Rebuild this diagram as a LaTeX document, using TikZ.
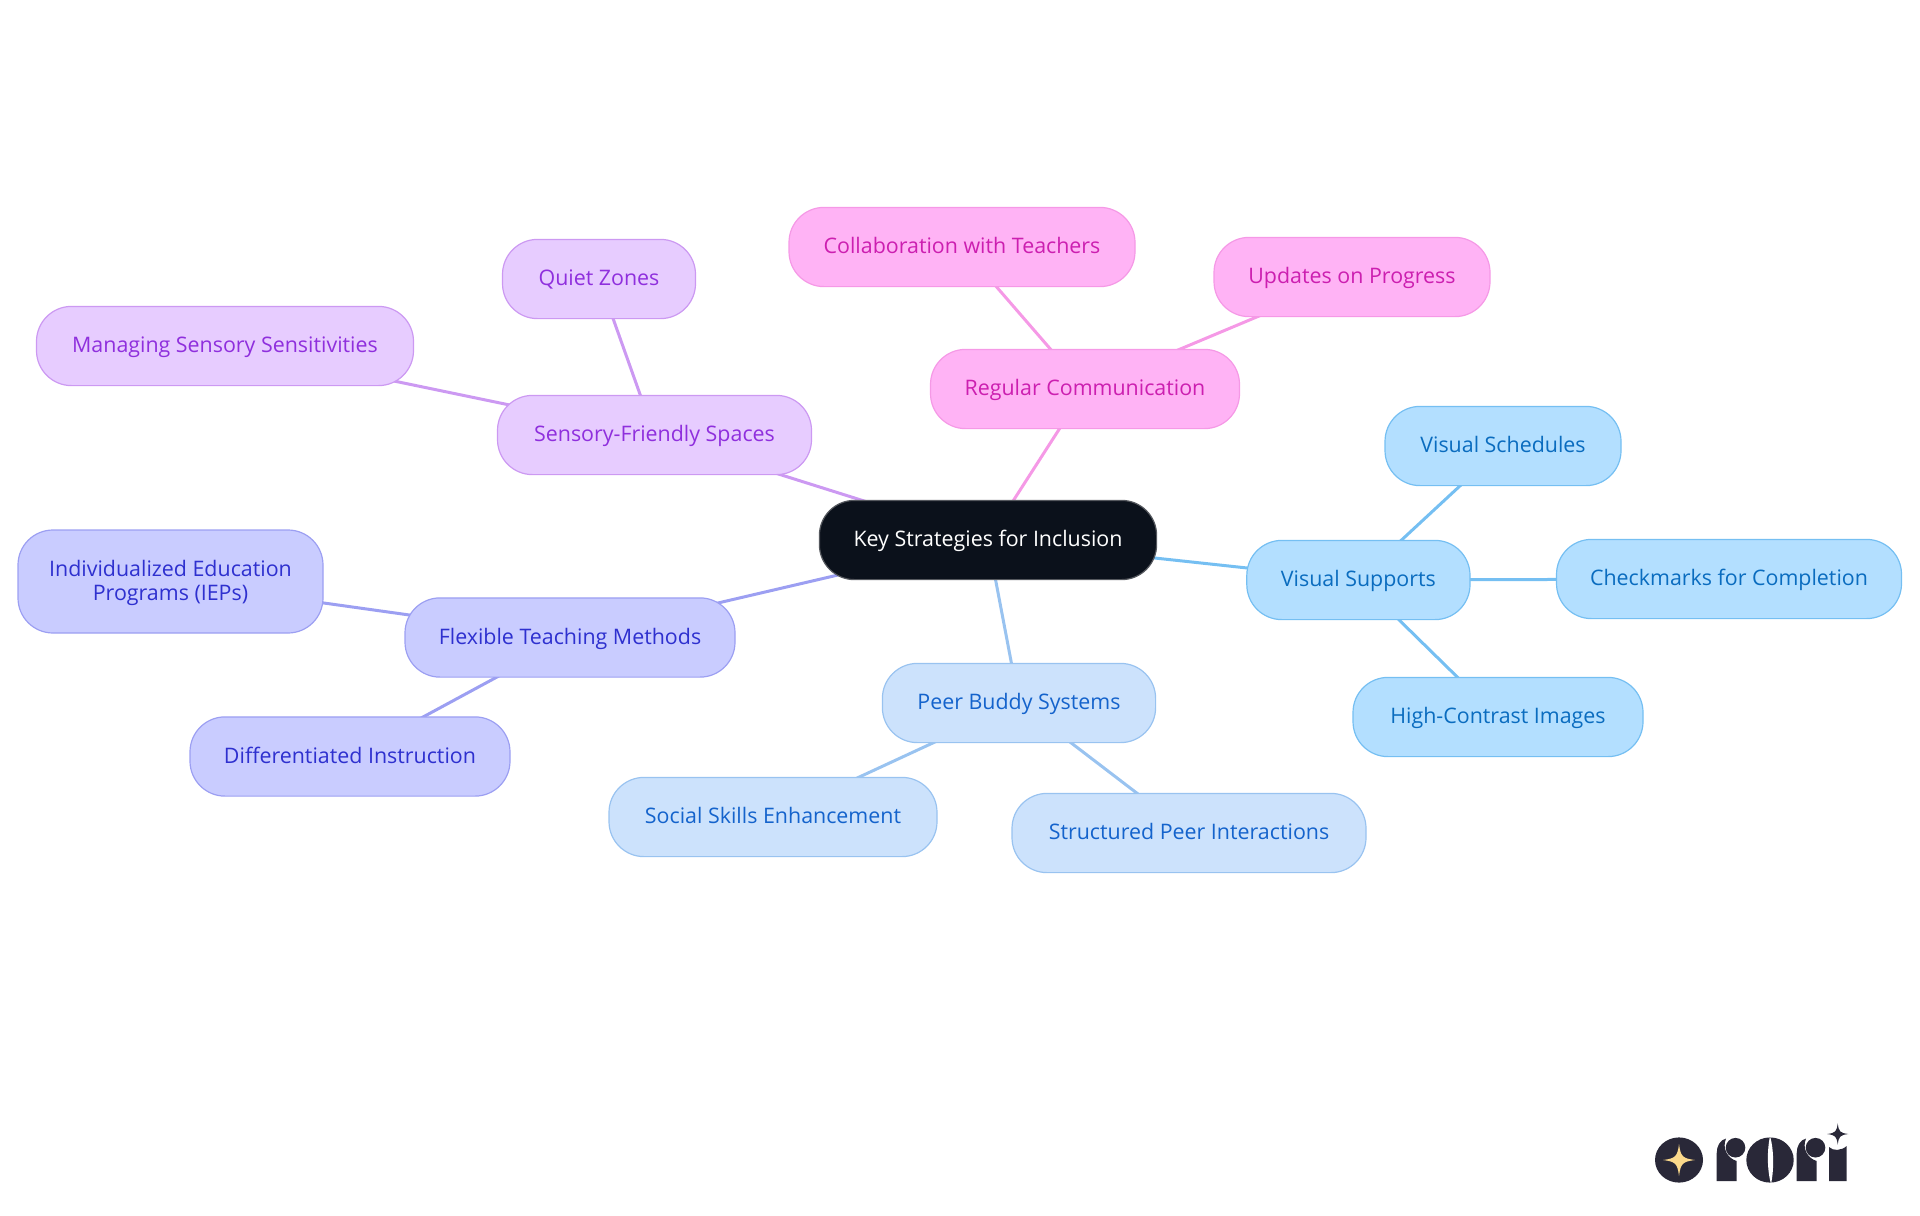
\documentclass[tikz,border=0pt]{standalone}
\usepackage{fontspec}
\setmainfont{Open Sans}
\usetikzlibrary{backgrounds}

\definecolor{rootfill}{HTML}{0B111B}
\definecolor{rootline}{HTML}{55585E}
\definecolor{visualfill}{HTML}{B3DFFF}
\definecolor{visualline}{HTML}{75BFF2}
\definecolor{visualtext}{HTML}{0A6CBF}
\definecolor{peerfill}{HTML}{CCE2FC}
\definecolor{peerline}{HTML}{99C3F0}
\definecolor{peertext}{HTML}{1463CC}
\definecolor{flexfill}{HTML}{C9CCFF}
\definecolor{flexline}{HTML}{9C9FF2}
\definecolor{flextext}{HTML}{2E30CF}
\definecolor{sensoryfill}{HTML}{E7CCFF}
\definecolor{sensoryline}{HTML}{CC99F2}
\definecolor{sensorytext}{HTML}{8F2FDD}
\definecolor{regularfill}{HTML}{FFB3F5}
\definecolor{regularline}{HTML}{F599E6}
\definecolor{regulartext}{HTML}{CC1FB0}
\definecolor{logodark}{HTML}{292838}
\definecolor{logostar}{HTML}{FBD98B}

\tikzset{
  mapnode/.style={rectangle,rounded corners=17.5pt,line width=0.6pt,minimum height=39.6pt,
    inner sep=0pt,align=center,text height=9.4pt,text depth=2.5pt,
    font=\fontsize{10.7}{12}\selectfont},
  rootnode/.style={mapnode,fill=rootfill,draw=rootline,text=white},
  visualnode/.style={mapnode,fill=visualfill,draw=visualline,text=visualtext},
  peernode/.style={mapnode,fill=peerfill,draw=peerline,text=peertext},
  flexnode/.style={mapnode,fill=flexfill,draw=flexline,text=flextext},
  sensorynode/.style={mapnode,fill=sensoryfill,draw=sensoryline,text=sensorytext},
  regularnode/.style={mapnode,fill=regularfill,draw=regularline,text=regulartext},
  mapline/.style={line width=1.5pt}
}

\newcommand{\sparkle}[4]{%
  \fill[#1,shift={(#2,#3)}] (0,-#4)
    .. controls ({0.1*#4},{-0.22*#4}) and ({0.22*#4},{-0.1*#4}) .. (#4,0)
    .. controls ({0.22*#4},{0.1*#4}) and ({0.1*#4},{0.22*#4}) .. (0,#4)
    .. controls ({-0.1*#4},{0.22*#4}) and ({-0.22*#4},{0.1*#4}) .. (-#4,0)
    .. controls ({-0.22*#4},{-0.1*#4}) and ({-0.1*#4},{-0.22*#4}) .. (0,-#4) -- cycle;}

\begin{document}
\begin{tikzpicture}[x=0.5pt,y=-0.5pt]
    \useasboundingbox (0,0) rectangle (1920,1215);

    \node[rootnode,minimum width=168.6pt] (key) at (988,540) {Key Strategies for Inclusion};

    \node[visualnode,minimum width=111.6pt] (visual) at (1358.4,580) {Visual Supports};
    \node[visualnode,minimum width=118pt] (schedules) at (1503,446) {Visual Schedules};
    \node[visualnode,minimum width=172.5pt] (checkmarks) at (1729,579) {Checkmarks for Completion};
    \node[visualnode,minimum width=145pt] (contrast) at (1498,717) {High-Contrast Images};

    \node[peernode,minimum width=136.6pt] (peer) at (1019,703) {Peer Buddy Systems};
    \node[peernode,minimum width=164pt] (social) at (773,817) {Social Skills Enhancement};
    \node[peernode,minimum width=177pt] (structured) at (1189,833) {Structured Peer Interactions};

    \node[flexnode,minimum width=165pt] (flexible) at (570,637.5) {Flexible Teaching Methods};
    \node[flexnode,minimum width=152.5pt,minimum height=51.5pt,text height=21pt] (iep) at (170.5,581.5) {Individualized Education\\Programs (IEPs)};
    \node[flexnode,minimum width=160pt] (differentiated) at (350,756.5) {Differentiated Instruction};

    \node[sensorynode,minimum width=157pt] (sensory) at (654.5,435) {Sensory-Friendly Spaces};
    \node[sensorynode,minimum width=96.5pt] (quiet) at (599,279) {Quiet Zones};
    \node[sensorynode,minimum width=188.5pt] (managing) at (225,346) {Managing Sensory Sensitivities};

    \node[regularnode,minimum width=154.5pt] (regular) at (1085,389) {Regular Communication};
    \node[regularnode,minimum width=173pt] (collaboration) at (962,247) {Collaboration with Teachers};
    \node[regularnode,minimum width=138pt] (updates) at (1352,277) {Updates on Progress};

    \begin{scope}[on background layer]
        \draw[mapline,visualline] (key.center) -- (visual.center);
        \draw[mapline,visualline] (visual.center) -- (schedules.center);
        \draw[mapline,visualline] (visual.center) -- (checkmarks.center);
        \draw[mapline,visualline] (visual.center) -- (contrast.center);
        \draw[mapline,peerline] (key.center) -- (peer.center);
        \draw[mapline,peerline] (peer.center) -- (social.center);
        \draw[mapline,peerline] (peer.center) -- (structured.center);
        \draw[mapline,flexline] (key.center) -- (flexible.center);
        \draw[mapline,flexline] (flexible.center) -- (iep.center);
        \draw[mapline,flexline] (flexible.center) -- (differentiated.center);
        \draw[mapline,sensoryline] (key.center) -- (sensory.center);
        \draw[mapline,sensoryline] (sensory.center) -- (quiet.center);
        \draw[mapline,sensoryline] (sensory.center) -- (managing.center);
        \draw[mapline,regularline] (key.center) -- (regular.center);
        \draw[mapline,regularline] (regular.center) -- (collaboration.center);
        \draw[mapline,regularline] (regular.center) -- (updates.center);
    \end{scope}

    % logo
    \fill[logodark] (1679,1160) ellipse [x radius=24,y radius=22.6];
    \sparkle{logostar}{1679}{1160}{16}
    \foreach \dx in {0,80} {
        \begin{scope}[xshift=\dx*0.5pt]
            \fill[logodark] (1716.7,1181) -- (1716.7,1153)
                .. controls (1716.7,1146) and (1720,1140) .. (1726,1138.5)
                .. controls (1722,1148) and (1727,1158) .. (1736.7,1161) -- (1736.7,1181) -- cycle;
            \fill[logodark] (1735.5,1147.7) circle [radius=9.8];
        \end{scope}
    }
    \fill[logodark] (1770,1160) ellipse [x radius=23.7,y radius=22.6];
    \fill[white] (1770,1136) .. controls (1767,1150) and (1767,1170) .. (1771,1184)
        .. controls (1774,1170) and (1774,1150) .. (1770,1136) -- cycle;
    \fill[logodark] (1829,1181) -- (1829,1147) .. controls (1833,1151) and (1841,1151) .. (1846.7,1146)
        -- (1846.7,1181) -- cycle;
    \sparkle{logodark}{1837.7}{1134}{10.6}
\end{tikzpicture}
\end{document}
